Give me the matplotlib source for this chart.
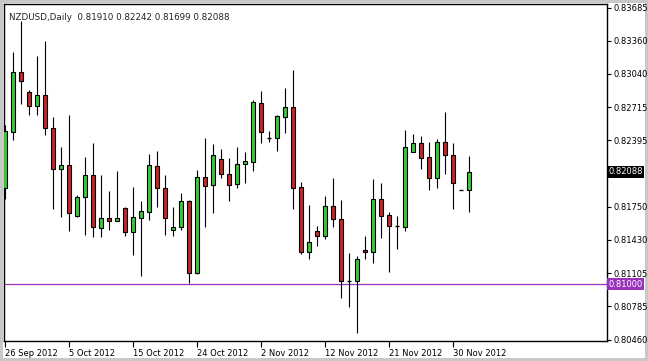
import matplotlib
matplotlib.use('Agg')
import matplotlib.pyplot as plt

# NZDUSD daily candles
opens = [0.81929, 0.82479, 0.83062, 0.82862, 0.82731, 0.82832, 0.82512, 0.82114, 0.82156, 0.81660,
         0.81848, 0.82056, 0.81547, 0.81638, 0.81615, 0.81735, 0.81502, 0.81644, 0.81702, 0.82146,
         0.81929, 0.81525, 0.81557, 0.81803, 0.81104, 0.82042, 0.81959, 0.82211, 0.82068, 0.81971,
         0.82163, 0.82188, 0.82755, 0.82421, 0.82415, 0.82619, 0.82716, 0.81939, 0.81314, 0.81515,
         0.81469, 0.81755, 0.81628, 0.81029, 0.81032, 0.81330, 0.81314, 0.81823, 0.81670, 0.81563,
         0.81557, 0.82285, 0.82366, 0.82233, 0.82032, 0.82376, 0.82250, 0.81910, 0.81910]
highs = [0.82544, 0.83256, 0.83557, 0.82884, 0.83214, 0.83360, 0.82625, 0.82333, 0.82641, 0.81864,
         0.82236, 0.82366, 0.82059, 0.81903, 0.82097, 0.81751, 0.81939, 0.81806, 0.82263, 0.82289,
         0.82059, 0.81745, 0.81887, 0.81816, 0.82107, 0.82421, 0.82360, 0.82311, 0.82221, 0.82333,
         0.82279, 0.82787, 0.82874, 0.82486, 0.82641, 0.82901, 0.83078, 0.81988, 0.81767, 0.81563,
         0.81855, 0.82027, 0.81816, 0.81298, 0.81272, 0.81466, 0.82020, 0.81981, 0.81696, 0.81660,
         0.82496, 0.82454, 0.82437, 0.82376, 0.82405, 0.82670, 0.82366, 0.81910, 0.82242]
lows = [0.81826, 0.82398, 0.82748, 0.82641, 0.82641, 0.82447, 0.81729, 0.81654, 0.81518, 0.81654,
        0.81476, 0.81454, 0.81454, 0.81525, 0.81612, 0.81466, 0.81282, 0.81078, 0.81622, 0.81748,
        0.81476, 0.81466, 0.81525, 0.81013, 0.81100, 0.81557, 0.81693, 0.82027, 0.81809, 0.81935,
        0.81984, 0.82100, 0.82372, 0.82382, 0.82295, 0.82469, 0.81729, 0.81289, 0.81240, 0.81369,
        0.81437, 0.81557, 0.80867, 0.80780, 0.80522, 0.81240, 0.81201, 0.81450, 0.81120, 0.81337,
        0.81518, 0.82282, 0.82117, 0.81913, 0.81935, 0.82068, 0.81729, 0.81910, 0.81699]
closes = [0.82489, 0.83059, 0.82974, 0.82731, 0.82832, 0.82512, 0.82114, 0.82156, 0.81687, 0.81842,
          0.82056, 0.81557, 0.81638, 0.81615, 0.81638, 0.81502, 0.81648, 0.81712, 0.82156, 0.81929,
          0.81638, 0.81557, 0.81803, 0.81104, 0.82042, 0.81952, 0.82250, 0.82068, 0.81959, 0.82163,
          0.82192, 0.82765, 0.82473, 0.82421, 0.82632, 0.82716, 0.81935, 0.81308, 0.81405, 0.81469,
          0.81755, 0.81628, 0.81032, 0.81029, 0.81240, 0.81308, 0.81823, 0.81663, 0.81566, 0.81563,
          0.82331, 0.82366, 0.82227, 0.82027, 0.82376, 0.82250, 0.81984, 0.81910, 0.82088]

date_labels = ['26 Sep 2012', '5 Oct 2012', '15 Oct 2012', '24 Oct 2012',
               '2 Nov 2012', '12 Nov 2012', '21 Nov 2012', '30 Nov 2012']
price_ticks = [0.83685, 0.83360, 0.83040, 0.82715, 0.82395, 0.81750,
               0.81430, 0.81105, 0.80785, 0.80460]
last_price = 0.82088
level = 0.81000

plt.rcParams['font.family'] = 'DejaVu Sans'

fig = plt.figure(figsize=(6.48, 3.61), dpi=100)
fig.patch.set_edgecolor('#c8c8c8')
fig.patch.set_linewidth(3)
ax = fig.add_axes([4 / 648, 1 - 341 / 361, 603 / 648, 337 / 361])

green = '#33cc33'
red = '#cc2222'
w = 0.62
for i in range(len(opens)):
    o, h, l, c = opens[i], highs[i], lows[i], closes[i]
    ax.vlines(i, l, h, color='black', lw=0.8, zorder=2)
    if abs(c - o) < 0.00004:
        ax.hlines(o, i - w / 2, i + w / 2, color='black', lw=1.0, zorder=3)
    else:
        ax.bar(i, abs(c - o), bottom=min(o, c), width=w,
               color=green if c > o else red, edgecolor='black', lw=0.8, zorder=3)

ax.axhline(level, color='#9933bb', lw=0.9, zorder=1)

ax.set_xlim(-0.125, 75.25)
ax.set_ylim(0.80447, 0.83719)

ax.set_xticks(range(0, 8 * len(date_labels), 8))
ax.set_xticklabels(date_labels, ha='left', fontsize=6)
ax.tick_params(axis='x', length=4, width=0.8, pad=1.5)

ax.yaxis.tick_right()
ax.set_yticks(price_ticks)
ax.set_yticklabels(['%.5f' % p for p in price_ticks], fontsize=6)
ax.tick_params(axis='y', length=3, width=0.8, pad=2)

ax.text(1.002, last_price, '%.5f' % last_price, transform=ax.get_yaxis_transform(),
        fontsize=6, color='white', va='center', ha='left',
        bbox=dict(boxstyle='square,pad=0.2', fc='black', ec='none'))
ax.text(1.002, level, '%.5f' % level, transform=ax.get_yaxis_transform(),
        fontsize=6, color='white', va='center', ha='left',
        bbox=dict(boxstyle='square,pad=0.2', fc='#9933bb', ec='none'))

ax.text(0.008, 0.973, 'NZDUSD,Daily  %.5f %.5f %.5f %.5f' % (opens[-1], highs[-1], lows[-1], closes[-1]),
        transform=ax.transAxes, fontsize=6.3, va='top', ha='left', color='#222222')

for s in ax.spines.values():
    s.set_linewidth(1.0)

fig.savefig('out.png', dpi=100)
